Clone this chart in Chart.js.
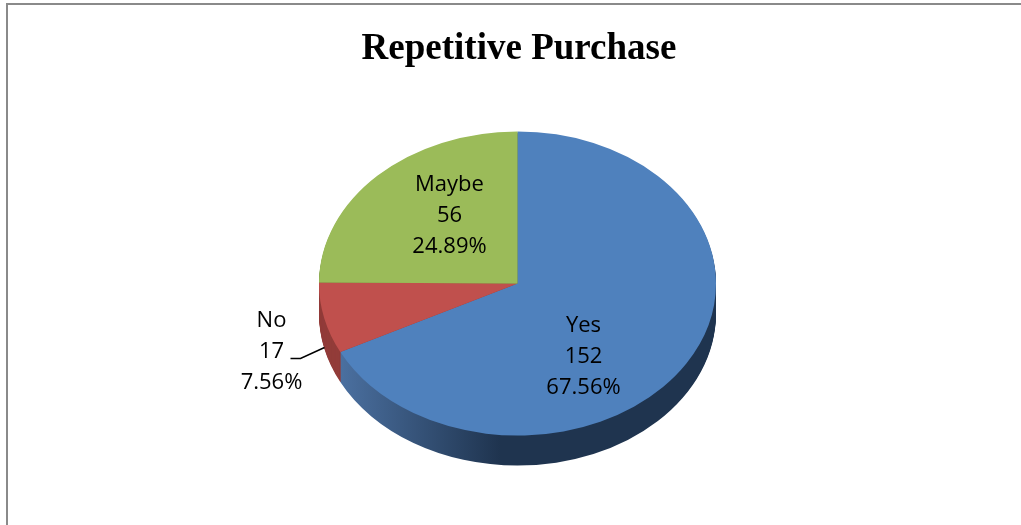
<!DOCTYPE html>
<html>
<head>
<meta charset="utf-8">
<script src="https://cdn.jsdelivr.net/npm/chart.js@4/dist/chart.umd.min.js"></script>
<style>
  body { margin: 0; background: #fff; }
  #wrap { position: relative; width: 1021px; height: 525px; }
  #frame {
    position: absolute; left: 6px; top: 3px; right: 0; bottom: 0;
    border-left: 2px solid #8a8a8a; border-top: 2px solid #8a8a8a;
  }
  canvas { position: absolute; left: 0; top: 0; }
</style>
</head>
<body>
<div id="wrap">
  <div id="frame"></div>
  <canvas id="pieChart" width="1021" height="525"></canvas>
</div>
<script>
// data
const categories = ["Yes", "No", "Maybe"];
const counts = [152, 17, 56];
const percents = ["67.56%", "7.56%", "24.89%"];

const topColors = ["#4f81bd", "#c0504d", "#9bbb59"];

// 3d look
const squash = 0.766;
const depth = 30;
const labelFont = "22px 'Open Sans'";

// label spots relative to pie center (px)
const labelSpots = [
  { dx: 66, dy: 73 },
  { dx: -246, dy: 68 },
  { dx: -68, dy: -68 }
];

function ellipse(ctx, cx, cy, dy) {
  ctx.translate(cx, cy + dy);
  ctx.scale(1, squash);
  ctx.translate(-cx, -cy);
}

function sideFill(ctx, i) {
  if (i === 0) {
    const g = ctx.createLinearGradient(340, 0, 500, 0);
    g.addColorStop(0, "#4b70a0");
    g.addColorStop(1, "#1f344f");
    return g;
  }
  if (i === 1) return "#923c39";
  return "#6e8a3c";
}

const pie3d = {
  id: "pie3d",
  beforeDatasetsDraw(chart) {
    const ctx = chart.ctx;
    const arcs = chart.getDatasetMeta(0).data;
    const cx = arcs[0].x, cy = arcs[0].y;

    // side walls: stack of shifted sectors
    for (let d = depth; d >= 1; d--) {
      arcs.forEach((a, i) => {
        ctx.save();
        ellipse(ctx, cx, cy, d);
        ctx.beginPath();
        ctx.moveTo(a.x, a.y);
        ctx.arc(a.x, a.y, a.outerRadius, a.startAngle, a.endAngle);
        ctx.closePath();
        ctx.fillStyle = sideFill(ctx, i);
        ctx.fill();
        ctx.restore();
      });
    }

    ctx.save();
    ellipse(ctx, cx, cy, 0);
  },
  afterDatasetsDraw(chart) {
    chart.ctx.restore();
  },
  afterDraw(chart) {
    const ctx = chart.ctx;
    const arcs = chart.getDatasetMeta(0).data;
    const cx = arcs[0].x, cy = arcs[0].y;

    // title
    ctx.save();
    ctx.fillStyle = "#000";
    ctx.textAlign = "center";
    ctx.textBaseline = "alphabetic";
    ctx.font = "bold 37px 'Liberation Serif'";
    ctx.fillText("Repetitive Purchase", 519, 59);

    // data labels
    ctx.font = labelFont;
    ctx.textBaseline = "middle";
    categories.forEach((c, i) => {
      const x = cx + labelSpots[i].dx;
      const y = cy + labelSpots[i].dy;
      const lines = [c, String(counts[i]), percents[i]];
      lines.forEach((t, j) => ctx.fillText(t, x, y + (j - 1) * 31));
    });

    // leader line for "No"
    ctx.strokeStyle = "#000";
    ctx.lineWidth = 1.5;
    ctx.beginPath();
    ctx.moveTo(cx - 227, cy + 75);
    ctx.lineTo(cx - 217, cy + 75);
    ctx.lineTo(cx - 193, cy + 64);
    ctx.stroke();
    ctx.restore();
  }
};

new Chart(document.getElementById("pieChart"), {
  type: "pie",
  data: {
    labels: categories,
    datasets: [{
      data: counts,
      backgroundColor: topColors,
      borderWidth: 0
    }]
  },
  options: {
    responsive: false,
    animation: false,
    events: [],
    layout: { padding: { left: 319, right: 305, top: 85, bottom: 43 } },
    plugins: {
      legend: { display: false },
      tooltip: { enabled: false },
      title: { display: false }
    }
  },
  plugins: [pie3d]
});
</script>
</body>
</html>
